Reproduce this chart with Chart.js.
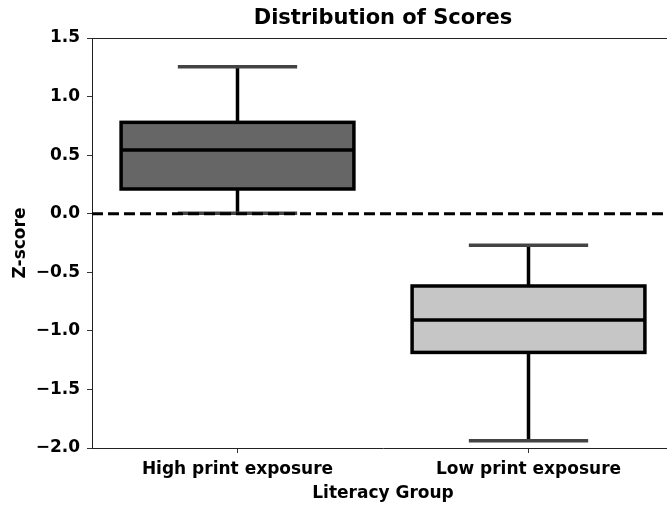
<!DOCTYPE html>
<html>
<head>
<meta charset="utf-8">
<script src="https://cdn.jsdelivr.net/npm/chart.js@4/dist/chart.umd.min.js"></script>
<style>
  html, body { margin: 0; padding: 0; background: #fff; overflow: hidden; }
  #wrap { width: 667px; height: 506px; overflow: hidden; }
</style>
</head>
<body>
<div id="wrap"><canvas id="chart" width="675" height="506"></canvas></div>
<script>
const groups = ["High print exposure", "Low print exposure"]
const whiskerLow = [0.005, -1.938]
const q1 = [0.211, -1.184]
const median = [0.544, -0.908]
const q3 = [0.78, -0.617]
const whiskerHigh = [1.255, -0.27]
const boxColors = ["#666666", "#c6c6c6"]
const yTicks = [-2.0, -1.5, -1.0, -0.5, 0.0, 0.5, 1.0, 1.5]

const FONT = "'DejaVu Sans', sans-serif"

const boxPlot = {
  id: "boxPlot",
  beforeDatasetsDraw(chart) {
    const { ctx, scales: { x, y } } = chart
    const step = x.getPixelForValue(1) - x.getPixelForValue(0)
    ctx.save()
    groups.forEach((g, i) => {
      const cx = x.getPixelForValue(i)
      ctx.lineWidth = 3.5
      ctx.strokeStyle = "#000"
      ctx.beginPath()
      ctx.moveTo(cx, y.getPixelForValue(whiskerLow[i]))
      ctx.lineTo(cx, y.getPixelForValue(whiskerHigh[i]))
      ctx.stroke()
      ctx.strokeStyle = "#444"
      const half = step * 0.205
      ;[whiskerLow[i], whiskerHigh[i]].forEach(v => {
        const py = y.getPixelForValue(v)
        ctx.beginPath()
        ctx.moveTo(cx - half, py)
        ctx.lineTo(cx + half, py)
        ctx.stroke()
      })
    })
    ctx.restore()
  },
  afterDatasetsDraw(chart) {
    const { ctx, chartArea, scales: { y } } = chart
    const bars = chart.getDatasetMeta(0).data
    ctx.save()
    bars.forEach((bar, i) => {
      const { x: cx, y: top, base, width } = bar.getProps(["x", "y", "base", "width"], true)
      const half = width / 2
      ctx.lineWidth = 3.5
      ctx.strokeStyle = "#000"
      ctx.strokeRect(cx - half, Math.min(top, base), width, Math.abs(base - top))
      const py = y.getPixelForValue(median[i])
      ctx.beginPath()
      ctx.moveTo(cx - half, py)
      ctx.lineTo(cx + half, py)
      ctx.stroke()
    })
    // reference line at zero
    const zy = y.getPixelForValue(0)
    ctx.setLineDash([11, 5])
    ctx.lineWidth = 3
    ctx.beginPath()
    ctx.moveTo(chartArea.left, zy)
    ctx.lineTo(chartArea.right, zy)
    ctx.stroke()
    ctx.setLineDash([])
    // top and right spines
    ctx.lineWidth = 1
    ctx.strokeStyle = "#222"
    ctx.beginPath()
    ctx.moveTo(chartArea.left, chartArea.top + 0.5)
    ctx.lineTo(chartArea.right, chartArea.top + 0.5)
    ctx.lineTo(chartArea.right, chartArea.bottom)
    ctx.stroke()
    // title over the plot area
    ctx.fillStyle = "#000"
    ctx.font = "bold 21px " + FONT
    ctx.textAlign = "center"
    ctx.textBaseline = "middle"
    ctx.fillText("Distribution of Scores", (chartArea.left + chartArea.right) / 2, 19)
    ctx.restore()
  }
}

new Chart(document.getElementById("chart"), {
  type: "bar",
  data: {
    labels: groups,
    datasets: [{
      data: groups.map((g, i) => [q1[i], q3[i]]),
      backgroundColor: boxColors,
      borderWidth: 0,
      barPercentage: 0.8,
      categoryPercentage: 1
    }]
  },
  options: {
    responsive: false,
    animation: false,
    layout: { padding: { top: 38, right: 1 } },
    plugins: { legend: { display: false }, tooltip: { enabled: false } },
    scales: {
      x: {
        afterFit(s) { s.height = 58 },
        grid: { offset: false, drawOnChartArea: false, tickLength: 5, color: "#333" },
        border: { color: "#222", width: 1 },
        ticks: { color: "#000", padding: 6, font: { family: FONT, size: 17, weight: "bold" } },
        title: { display: true, text: "Literacy Group", color: "#000", padding: { top: 0, bottom: 2 }, font: { family: FONT, size: 17, weight: "bold" } }
      },
      y: {
        min: -2, max: 1.5,
        afterFit(s) { s.width = 92 },
        afterBuildTicks(s) { s.ticks = yTicks.map(v => ({ value: v })) },
        grid: { drawOnChartArea: false, tickLength: 5, color: "#333" },
        border: { color: "#222", width: 1 },
        ticks: {
          color: "#000", padding: 7,
          font: { family: FONT, size: 17, weight: "bold" },
          callback: v => v.toFixed(1).replace("-", "\u2212")
        },
        title: { display: true, text: "Z-score", color: "#000", padding: { top: 10, bottom: 0 }, font: { family: FONT, size: 17, weight: "bold" } }
      }
    }
  },
  plugins: [boxPlot]
})
</script>
</body>
</html>
